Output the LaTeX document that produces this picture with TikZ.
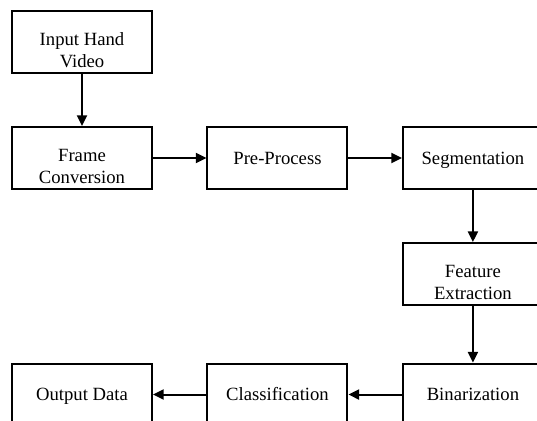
\documentclass[tikz,border=0pt]{standalone}
\usepackage{fontspec}
\setmainfont{Liberation Serif}
\usetikzlibrary{positioning,arrows.meta}

\begin{document}
\begin{tikzpicture}[->,>={Stealth[length=8pt,width=7.5pt,inset=0pt]},on grid,
      node distance=87pt and 146.6pt,line width=1.5pt,
      blk/.style={draw,rectangle,minimum width=105pt,minimum height=46.5pt,
        text height=11.5pt,text depth=2pt,font=\fontsize{14}{16.5}\selectfont},
      lowtxt/.style={align=center,yshift=-6pt,font=\fontsize{14}{16.5}\selectfont}]
			\clip[use as bounding box] (-61.5pt,31.5pt) rectangle (341.25pt,-284.25pt);
			\node[blk,label={[lowtxt]center:Input Hand\\Video}] (video) {};
			\node[blk,label={[lowtxt]center:Frame\\Conversion}] (frame) [below=of video] {};
			\node[blk] (prep) [right=of frame] {Pre-Process};
			\node[blk] (seg) [right=of prep] {Segmentation};
			\node[blk,label={[lowtxt]center:Feature\\Extraction}] (feat) [below=of seg] {};
			\node[blk] (bin) [below=90.4pt of feat] {Binarization};
			\node[blk] (cls) [left=of bin] {Classification};
			\node[blk] (out) [left=of cls] {Output Data};
			\path
				(video) edge (frame)
				(frame) edge (prep)
				(prep) edge (seg)
				(seg) edge (feat)
				(feat) edge (bin)
				(bin) edge (cls)
				(cls) edge (out);
		\end{tikzpicture}
\end{document}
